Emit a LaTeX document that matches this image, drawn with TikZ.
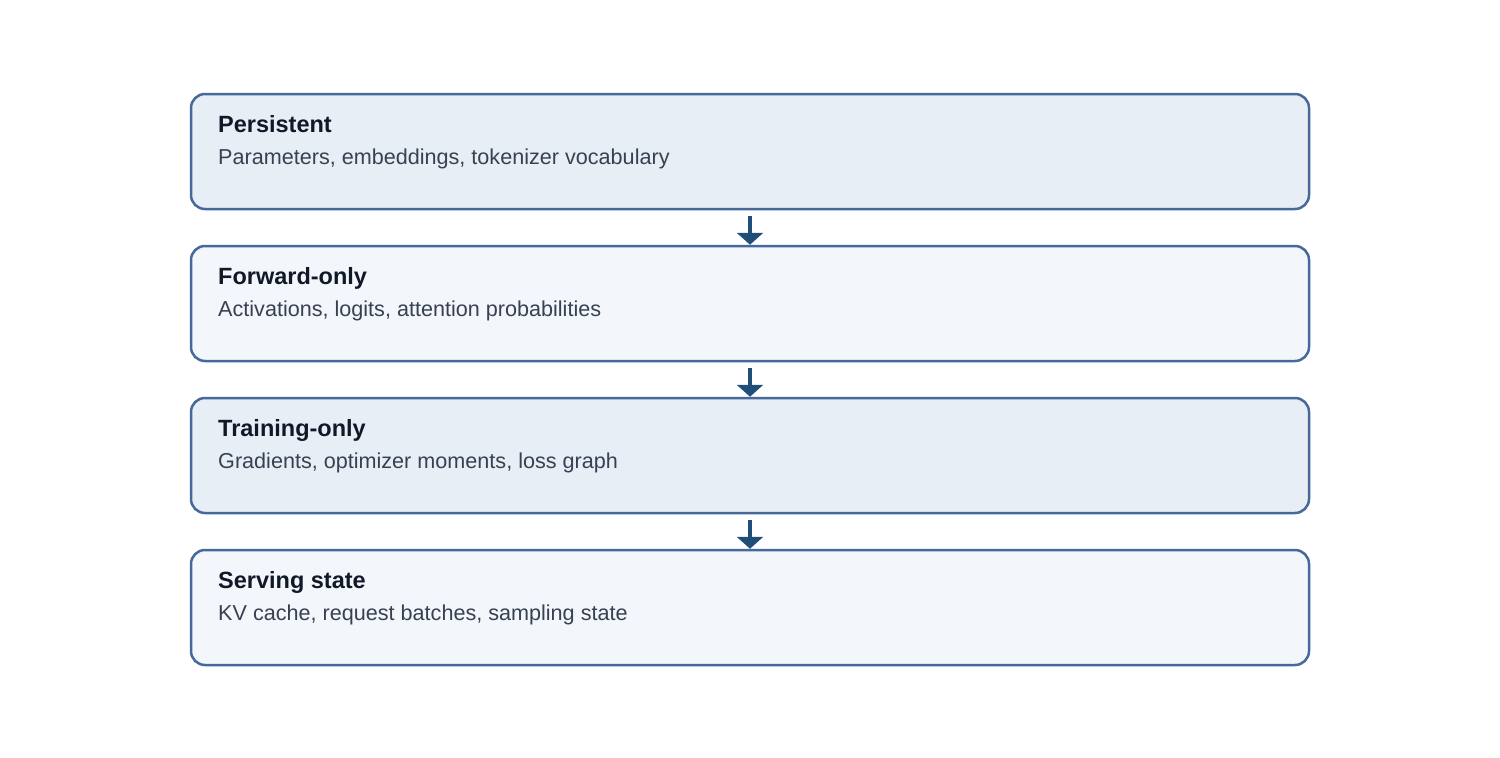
\documentclass[tikz,border=0pt]{standalone}
\usepackage{fontspec}
\setmainfont{Liberation Sans}
\usetikzlibrary{arrows.meta}
\definecolor{bordc}{HTML}{44699A}
\definecolor{fillA}{HTML}{E8EEF6}
\definecolor{fillB}{HTML}{F3F6FA}
\definecolor{arrc}{HTML}{1F4E79}
\definecolor{titc}{HTML}{111827}
\definecolor{subc}{HTML}{374151}
\tikzset{
  layer/.style={draw=bordc, line width=2.5pt, rounded corners=14pt, minimum width=1118pt, minimum height=115pt, inner sep=0pt},
  ttl/.style={anchor=base west, inner sep=0pt, text=titc, font=\fontsize{23.5}{28}\selectfont\bfseries},
  sub/.style={anchor=base west, inner sep=0pt, text=subc, font=\fontsize{21.6}{26}\selectfont},
  arr/.style={draw=arrc, line width=4pt, -{Triangle[width=26pt,length=12pt]}, shorten <=6pt}
}
\begin{document}
\begin{tikzpicture}[x=1pt,y=-1pt]
\useasboundingbox (0,0) rectangle (1500,758);
\node[layer, fill=fillA] (b1) at (750,151.5) {};
\node[layer, fill=fillB] (b2) at (750,303.5) {};
\node[layer, fill=fillA] (b3) at (750,455.5) {};
\node[layer, fill=fillB] (b4) at (750,607.5) {};
\node[ttl] (t1) at (218,132) {Persistent};
\node[sub] (s1) at (218,164) {Parameters, embeddings, tokenizer vocabulary};
\node[ttl] (t2) at (218,284) {Forward-only};
\node[sub] (s2) at (218,316) {Activations, logits, attention probabilities};
\node[ttl] (t3) at (218,436) {Training-only};
\node[sub] (s3) at (218,468) {Gradients, optimizer moments, loss graph};
\node[ttl] (t4) at (218,588) {Serving state};
\node[sub] (s4) at (218,620) {KV cache, request batches, sampling state};
\draw[arr] (b1.south) -- (b2.north);
\draw[arr] (b2.south) -- (b3.north);
\draw[arr] (b3.south) -- (b4.north);
\end{tikzpicture}
\end{document}
